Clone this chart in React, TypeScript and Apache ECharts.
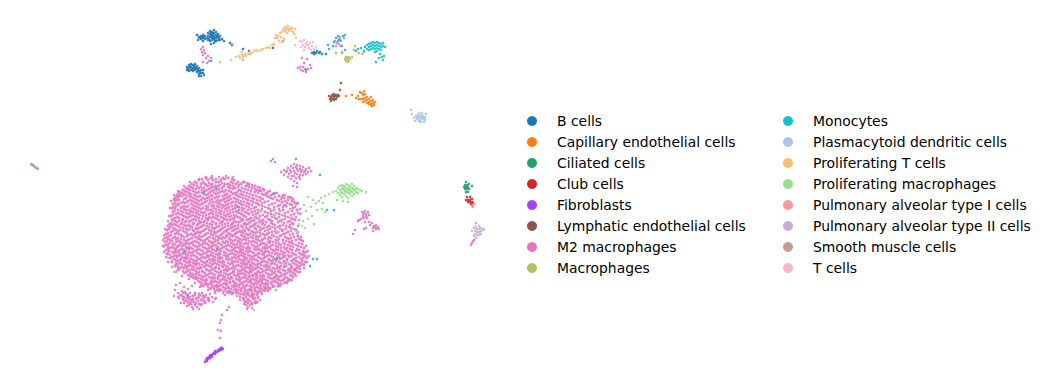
import React, { useEffect, useRef } from "react";
import * as echarts from "echarts";

type Pt = number[];
const rows = (r: number[][]): Pt[] => r.flatMap(([y, ...xs]) => xs.map((x) => [x, y]));

const legendLeft = ["B cells", "Capillary endothelial cells", "Ciliated cells", "Club cells", "Fibroblasts", "Lymphatic endothelial cells", "M2 macrophages", "Macrophages"];
const legendRight = ["Monocytes", "Plasmacytoid dendritic cells", "Proliferating T cells", "Proliferating macrophages", "Pulmonary alveolar type I cells", "Pulmonary alveolar type II cells", "Smooth muscle cells", "T cells"];

const colours: Record<string, string> = {
  "B cells": "#1f77b4", "Capillary endothelial cells": "#ff7f0e", "Ciliated cells": "#279e68", "Club cells": "#d62728",
  "Fibroblasts": "#aa40fc", "Lymphatic endothelial cells": "#8c564b", "M2 macrophages": "#e377c2", "Macrophages": "#b5bd61",
  "Monocytes": "#17becf", "Plasmacytoid dendritic cells": "#aec7e8", "Proliferating T cells": "#ffbb78", "Proliferating macrophages": "#98df8a",
  "Pulmonary alveolar type I cells": "#ff9896", "Pulmonary alveolar type II cells": "#c5b0d5", "Smooth muscle cells": "#c49c94", "T cells": "#f7b6d2",
};

// dense core of the M2 cloud, row by row: [y, x, x, ...]
const m2Core: Pt[] = rows([
  [178, 206, 211, 223, 228],
  [180, 199, 208, 213, 221, 234],
  [182, 195, 203, 216, 219, 231, 238, 244],
  [184, 192, 201, 205, 212, 225, 228, 236, 241, 249],
  [186, 189, 197, 208, 215, 218, 224, 233, 246, 255],
  [188, 186, 193, 199, 204, 211, 222, 230, 235, 242, 252, 260],
  [190, 183, 190, 202, 207, 214, 217, 226, 239, 248, 257, 264],
  [192, 180, 187, 195, 199, 210, 220, 224, 231, 237, 244, 255, 268],
  [194, 178, 184, 191, 204, 208, 216, 227, 233, 241, 250, 262, 273],
  [196, 177, 182, 189, 196, 200, 212, 219, 223, 230, 238, 246, 256, 267, 279],
  [198, 175, 186, 193, 203, 207, 215, 226, 234, 243, 252, 261, 271, 284, 291],
  [200, 174, 179, 190, 197, 201, 210, 218, 222, 229, 238, 248, 257, 277, 288],
  [202, 183, 187, 194, 205, 213, 216, 225, 233, 236, 244, 253, 265, 282, 294],
  [204, 173, 178, 191, 198, 202, 209, 220, 228, 241, 249, 258, 272, 290, 296],
  [206, 176, 184, 188, 195, 206, 212, 217, 224, 232, 237, 246, 262, 278, 286],
  [208, 172, 181, 192, 199, 203, 214, 222, 227, 235, 242, 254, 268, 293],
  [210, 178, 186, 189, 196, 208, 211, 219, 230, 239, 248, 258, 274, 283, 297],
  [212, 173, 183, 193, 201, 205, 216, 224, 233, 237, 245, 252, 265, 288],
  [214, 176, 180, 188, 198, 209, 213, 221, 228, 241, 249, 256, 271, 279, 294],
  [216, 171, 184, 191, 195, 203, 218, 226, 231, 236, 244, 260, 267, 285],
  [218, 175, 179, 187, 199, 206, 211, 215, 223, 234, 240, 251, 257, 275, 291],
  [220, 172, 182, 192, 196, 208, 219, 227, 230, 243, 247, 254, 263, 270, 282, 295],
  [222, 177, 185, 189, 201, 204, 213, 222, 236, 239, 250, 259, 266, 278, 288],
  [224, 170, 174, 181, 193, 198, 210, 216, 225, 232, 244, 248, 255, 262, 273, 293],
  [226, 168, 178, 186, 190, 202, 207, 219, 228, 235, 241, 252, 258, 269, 280, 286],
  [228, 173, 183, 196, 199, 212, 215, 223, 231, 238, 246, 255, 264, 275, 291],
  [230, 167, 176, 180, 188, 193, 204, 209, 220, 227, 234, 243, 249, 260, 268, 283, 296],
  [232, 171, 185, 198, 201, 214, 217, 224, 238, 241, 253, 257, 272, 278, 288],
  [234, 166, 175, 179, 191, 195, 206, 211, 222, 230, 235, 246, 250, 263, 267, 284, 293],
  [236, 169, 182, 187, 199, 203, 216, 227, 233, 243, 256, 260, 274, 280, 298],
  [238, 165, 173, 178, 192, 197, 208, 213, 220, 225, 238, 248, 253, 265, 271, 287, 291],
  [240, 170, 184, 188, 201, 205, 218, 231, 235, 242, 246, 258, 262, 276, 283, 296, 301],
  [242, 165, 176, 180, 193, 197, 211, 214, 223, 228, 239, 251, 255, 268, 273, 289],
  [244, 168, 173, 185, 189, 203, 207, 220, 233, 237, 244, 248, 261, 265, 279, 285, 293, 302],
  [246, 164, 178, 182, 195, 199, 212, 216, 226, 230, 241, 254, 258, 271, 276, 290, 298],
  [248, 170, 174, 187, 191, 205, 209, 222, 235, 239, 246, 250, 263, 267, 281, 287, 304],
  [250, 166, 180, 184, 197, 201, 214, 218, 228, 232, 243, 256, 260, 273, 278, 292, 299],
  [252, 172, 176, 189, 193, 207, 211, 224, 237, 241, 248, 252, 265, 269, 283, 289, 306],
  [254, 167, 182, 186, 199, 203, 216, 220, 230, 234, 245, 258, 262, 275, 280, 294, 301],
  [256, 174, 178, 191, 195, 209, 213, 226, 239, 243, 250, 254, 267, 271, 285, 291, 305],
  [258, 170, 184, 188, 201, 205, 218, 222, 232, 236, 247, 260, 264, 277, 282, 296, 303, 307],
  [260, 176, 180, 193, 197, 211, 215, 228, 241, 245, 252, 256, 269, 273, 287, 293],
  [262, 172, 186, 190, 203, 207, 220, 224, 234, 238, 249, 262, 266, 279, 284, 298, 305],
  [264, 178, 182, 195, 199, 213, 217, 230, 243, 247, 254, 258, 271, 275, 289, 295, 302],
  [266, 175, 188, 192, 205, 209, 222, 226, 236, 240, 251, 264, 268, 281, 286, 300],
  [268, 180, 184, 197, 201, 215, 219, 232, 245, 249, 256, 260, 273, 277, 291, 297],
  [270, 178, 190, 194, 207, 211, 224, 228, 238, 242, 253, 266, 270, 283, 288, 294],
  [272, 186, 199, 203, 217, 221, 234, 247, 251, 258, 262, 275, 279, 290, 298],
  [274, 192, 196, 209, 213, 226, 230, 240, 244, 255, 268, 272, 285, 295],
  [276, 190, 201, 205, 219, 223, 236, 249, 253, 260, 264, 277, 281, 292],
  [278, 194, 198, 211, 215, 228, 232, 242, 246, 257, 270, 274, 287],
  [280, 203, 207, 221, 225, 238, 251, 255, 262, 266, 279, 283, 290],
  [282, 200, 213, 217, 230, 234, 244, 248, 259, 272, 276, 286],
  [284, 205, 209, 223, 227, 240, 253, 257, 264, 268, 281],
  [286, 203, 215, 219, 232, 236, 246, 250, 261, 274, 278],
  [288, 211, 225, 229, 242, 255, 259, 266, 270],
  [290, 217, 221, 234, 238, 248, 252, 263, 268],
  [292, 227, 231, 244, 257, 261],
  [294, 186, 199, 240, 246, 254],
  [296, 182, 193, 203, 250],
  [298, 187, 197, 208, 243, 255],
  [300, 191, 184, 201, 248],
  [302, 194, 188, 205, 246, 257],
  [304, 199, 191, 252],
]);

// finer points between the core rows
const m2Fine: Pt[] = rows([
  [179, 202, 216, 225, 232],
  [183, 197, 209, 222, 233, 247],
  [185, 194, 206, 211, 220, 230, 239, 252],
  [187, 191, 201, 213, 228, 238, 249, 258],
  [189, 188, 196, 209, 219, 233, 245, 255, 263],
  [191, 185, 193, 205, 212, 222, 229, 241, 251, 261, 270],
  [193, 182, 189, 197, 202, 214, 218, 235, 247, 258, 266, 277],
  [195, 180, 186, 194, 206, 211, 225, 236, 243, 253, 264, 271, 285],
  [197, 179, 191, 198, 209, 217, 228, 240, 249, 259, 269, 275, 282, 288],
  [199, 177, 184, 195, 205, 212, 224, 231, 236, 246, 254, 263, 273, 281, 293],
  [201, 176, 188, 192, 199, 207, 220, 227, 241, 251, 260, 268, 279, 285, 292],
  [203, 175, 181, 185, 196, 203, 211, 218, 231, 239, 247, 256, 262, 275, 287, 297],
  [205, 179, 193, 200, 214, 222, 226, 235, 243, 252, 259, 269, 280, 284, 292],
  [207, 174, 182, 186, 197, 208, 219, 229, 239, 249, 256, 265, 274, 283, 295],
  [209, 175, 184, 194, 201, 206, 216, 225, 233, 244, 251, 262, 270, 279, 290],
  [211, 174, 181, 191, 198, 213, 221, 227, 236, 242, 255, 261, 271, 280, 292],
  [213, 178, 186, 190, 196, 203, 211, 219, 230, 239, 247, 258, 268, 276, 285, 298],
  [215, 173, 182, 193, 200, 206, 216, 224, 234, 243, 253, 263, 274, 282, 291],
  [217, 177, 186, 189, 197, 209, 213, 221, 229, 238, 246, 255, 265, 272, 279, 288, 296],
  [219, 173, 183, 194, 202, 208, 217, 225, 232, 242, 249, 259, 268, 277, 285, 293],
  [221, 175, 179, 186, 190, 199, 205, 212, 223, 234, 241, 252, 261, 272, 280, 290],
  [223, 171, 182, 194, 200, 207, 216, 220, 228, 233, 245, 256, 263, 271, 284, 292],
  [225, 172, 176, 184, 188, 197, 204, 212, 222, 231, 238, 246, 254, 265, 275, 283, 290],
  [227, 170, 180, 192, 201, 209, 217, 225, 233, 243, 250, 260, 267, 272, 278, 289],
  [229, 169, 175, 186, 190, 197, 206, 214, 221, 229, 236, 248, 256, 262, 270, 280, 286, 294],
  [231, 173, 178, 183, 194, 203, 211, 219, 226, 232, 240, 245, 252, 265, 275, 282, 291],
  [233, 168, 177, 187, 196, 200, 208, 215, 228, 236, 243, 255, 260, 269, 276, 286, 297],
  [235, 171, 181, 189, 193, 205, 213, 220, 226, 232, 241, 248, 253, 265, 272, 282, 290],
  [237, 167, 175, 184, 195, 201, 210, 218, 223, 230, 236, 245, 251, 258, 269, 277, 285, 294],
  [239, 168, 176, 181, 190, 199, 207, 215, 222, 229, 240, 244, 256, 263, 268, 279, 289, 299],
  [241, 167, 172, 178, 186, 195, 203, 209, 216, 226, 233, 238, 249, 253, 260, 270, 278, 286, 292],
  [243, 170, 182, 187, 191, 199, 205, 212, 218, 225, 231, 241, 246, 257, 263, 270, 276, 283, 291, 299],
  [245, 166, 175, 180, 184, 193, 201, 209, 214, 222, 228, 235, 240, 252, 260, 267, 273, 281, 288, 296],
  [247, 168, 172, 177, 186, 189, 197, 203, 211, 218, 224, 232, 237, 243, 248, 256, 265, 269, 278, 284, 293, 301],
  [249, 168, 176, 182, 189, 193, 199, 207, 212, 220, 226, 234, 241, 248, 254, 258, 265, 271, 276, 285, 290, 297],
  [251, 169, 175, 178, 186, 195, 203, 209, 216, 221, 230, 235, 240, 246, 250, 262, 267, 275, 281, 287, 296, 303],
  [253, 168, 174, 179, 184, 191, 197, 205, 213, 219, 226, 232, 239, 243, 254, 259, 264, 272, 277, 285, 292, 299, 304],
  [255, 170, 176, 180, 188, 193, 201, 207, 211, 218, 224, 228, 236, 241, 248, 256, 264, 269, 278, 283, 288, 296, 303],
  [257, 172, 177, 182, 186, 197, 203, 207, 215, 220, 228, 234, 238, 245, 252, 258, 265, 273, 279, 284, 289, 299],
  [259, 174, 181, 186, 191, 199, 209, 213, 220, 226, 230, 239, 244, 250, 254, 262, 269, 275, 280, 287, 294, 301],
  [261, 172, 178, 184, 189, 195, 201, 207, 213, 218, 223, 232, 236, 243, 248, 258, 264, 271, 276, 284, 291, 296, 302],
  [263, 176, 180, 188, 193, 197, 205, 210, 215, 222, 228, 232, 241, 245, 252, 260, 268, 273, 281, 286, 293, 300],
  [265, 176, 185, 190, 196, 202, 207, 212, 219, 224, 233, 238, 245, 250, 256, 261, 266, 277, 284, 291, 297, 304],
  [267, 178, 182, 186, 194, 200, 204, 211, 216, 223, 228, 234, 242, 247, 253, 258, 266, 270, 279, 284, 292, 298],
  [269, 179, 187, 192, 199, 206, 213, 219, 226, 230, 235, 243, 251, 255, 262, 268, 275, 280, 289, 295, 300],
  [271, 183, 188, 196, 202, 209, 215, 221, 227, 233, 240, 245, 250, 258, 264, 272, 278, 285, 291, 296],
  [273, 184, 190, 197, 205, 211, 219, 224, 232, 238, 242, 249, 256, 260, 266, 274, 281, 287, 293],
  [275, 188, 194, 199, 207, 215, 221, 228, 234, 238, 246, 252, 257, 263, 270, 276, 283, 290],
  [277, 192, 196, 203, 209, 213, 218, 225, 231, 239, 244, 250, 256, 262, 268, 275, 279, 285, 293],
  [279, 196, 201, 206, 213, 218, 223, 230, 236, 240, 248, 253, 260, 264, 272, 277, 284, 289],
  [281, 198, 205, 211, 215, 220, 227, 233, 240, 246, 250, 257, 261, 268, 274, 281, 288],
  [283, 202, 206, 211, 219, 225, 230, 236, 242, 251, 255, 262, 266, 271, 278, 284],
  [285, 201, 207, 212, 217, 221, 226, 234, 238, 243, 247, 254, 260, 266, 272, 279],
  [287, 208, 213, 217, 223, 228, 234, 239, 244, 252, 257, 264, 268, 273],
  [289, 210, 214, 219, 226, 231, 236, 241, 245, 250, 255, 261, 265, 270],
  [291, 215, 219, 224, 229, 236, 241, 246, 250, 255, 259, 265],
  [293, 183, 190, 195, 202, 223, 229, 233, 238, 248, 252, 258],
  [295, 180, 188, 195, 200, 206, 244, 248, 252, 257],
  [297, 178, 184, 190, 199, 205, 212, 240, 246, 252, 258],
  [299, 183, 189, 193, 196, 203, 209, 215, 244, 248, 253],
  [301, 186, 192, 198, 204, 209, 244, 250, 255],
  [303, 184, 190, 196, 205, 248, 252, 255],
  [305, 189, 195, 201, 250, 246],
]);

// scattered fringe of the M2 cloud and its smaller groups
const m2Fringe: Pt[] = [
  [206, 177], [212, 176], [219, 177], [226, 176], [233, 177], [199, 179], [243, 182], [190, 182], [248, 185], [184, 186], [252, 188],
  [178, 191], [259, 191], [266, 194], [275, 193], [283, 195], [174, 195], [290, 197], [298, 203], [171, 201], [300, 209], [170, 208],
  [300, 214], [169, 216], [299, 220], [168, 221], [298, 226], [165, 229], [298, 232], [164, 235], [301, 237], [163, 240], [303, 241],
  [163, 246], [306, 246], [164, 252], [308, 251], [166, 257], [309, 256], [168, 262], [307, 262], [172, 267], [304, 268], [176, 272],
  [300, 272], [182, 276], [296, 276], [189, 279], [292, 280], [195, 283], [287, 283], [200, 287], [280, 286], [208, 290], [276, 290],
  [268, 291], [215, 293], [262, 294], [225, 295], [232, 294],
  [176, 285], [180, 283], [184, 287], [175, 290], [178, 293], [182, 291], [188, 289], [192, 286], [174, 296], [179, 298], [185, 292],
  [187, 306], [192, 307], [197, 307], [202, 304], [208, 300], [213, 302], [204, 296], [210, 294], [216, 298], [199, 309], [193, 309], [181, 303],
  [237, 296], [240, 300], [244, 304], [248, 307], [252, 308], [256, 303], [253, 296], [258, 298], [247, 309], [242, 294], [236, 293], [260, 300],
  [222, 315], [227, 310], [220, 323], [221, 320], [218, 330], [221, 331], [220, 338], [229, 307],
  // upper-right patch
  [281, 172], [284, 175], [284, 170], [286, 172], [288, 168], [287, 171], [288, 177], [289, 174], [291, 166], [290, 170], [291, 172], [291, 179], [292, 176], [294, 164],
  [293, 168], [294, 171], [295, 173], [294, 176], [294, 181], [296, 178], [297, 165], [296, 167], [297, 169], [298, 171], [297, 174], [297, 183], [299, 177], [300, 166], [300, 169],
  [301, 172], [300, 175], [300, 179], [303, 167], [302, 170], [304, 172], [303, 175], [306, 169], [305, 171], [306, 174], [309, 168], [308, 172], [311, 171], [293, 186], [297, 187], [273, 159], [271, 161], [275, 162],
  // right-hand small groups
  [362, 212], [365, 211], [363, 215], [366, 214], [369, 215], [361, 219], [364, 218], [367, 218], [359, 220], [365, 222], [358, 221], [364, 213], [366, 216], [363, 217], [368, 212],
  [369, 222], [372, 223], [370, 225], [374, 226], [376, 225], [373, 228], [376, 229], [379, 229], [378, 227], [373, 231], [355, 230], [353, 234], [366, 228], [364, 229], [375, 227], [377, 228],
  [472, 243], [473, 241], [471, 245], [474, 240],
  // top groups
  [203, 47], [201, 49], [204, 50], [202, 52], [205, 53], [203, 55], [206, 58], [208, 56], [209, 61], [207, 63], [211, 58], [203, 62],
  [298, 68], [300, 67], [301, 70], [303, 67], [303, 71], [305, 69], [306, 72], [308, 69], [310, 65], [311, 68], [304, 63], [302, 58],
  [335, 41], [337, 43], [339, 44], [341, 41], [339, 39], [342, 46], [336, 46], [344, 38], [340, 37], [283, 41], [342, 53], [307, 59],
];

const bCells: Pt[] = [
  [197, 35], [199, 37], [198, 40], [201, 36], [201, 39], [203, 35], [203, 38], [205, 36], [205, 39], [203, 41], [207, 38], [208, 33], [208, 36], [208, 40],
  [210, 31], [210, 34], [210, 37], [210, 41], [212, 32], [212, 35], [212, 38], [212, 40], [214, 30], [214, 33], [214, 36], [214, 39], [214, 43], [216, 32],
  [216, 35], [216, 38], [216, 41], [218, 34], [218, 37], [218, 40], [220, 36], [220, 40], [222, 39], [224, 41], [230, 43], [232, 45], [211, 44],
  [211, 33], [213, 34], [213, 37], [215, 38], [215, 41], [211, 36], [209, 39], [217, 36], [219, 38], [200, 38], [202, 37], [204, 37],
  [187, 67], [187, 70], [189, 65], [189, 68], [189, 71], [191, 64], [191, 67], [191, 70], [193, 65], [193, 68], [193, 71], [195, 64], [195, 67], [195, 70],
  [197, 66], [197, 69], [197, 72], [199, 68], [199, 71], [199, 74], [201, 70], [201, 73], [201, 76], [203, 70], [203, 73], [204, 75], [199, 76],
  [190, 66], [192, 69], [194, 66], [194, 69], [196, 68], [198, 70], [200, 72], [188, 69],
  [243, 49], [249, 51], [273, 48], [312, 53], [314, 52], [316, 53], [317, 51], [319, 53], [320, 52], [322, 54], [314, 54], [326, 54],
];
const capillary: Pt[] = [
  [346, 96], [352, 95], [358, 96], [356, 98], [360, 92], [362, 93], [364, 91], [363, 95], [365, 94], [359, 99], [361, 99], [363, 99], [365, 98], [367, 97],
  [363, 102], [365, 101], [367, 100], [369, 99], [371, 97], [367, 103], [369, 102], [371, 101], [373, 100], [369, 104], [371, 104], [373, 103], [375, 102],
  [372, 106], [374, 105], [371, 105],
];
const ciliated: Pt[] = [[466, 182], [465, 185], [467, 185], [469, 184], [464, 187], [466, 187], [468, 187], [465, 189], [467, 189], [469, 189], [466, 192], [468, 192], [472, 186]];
const club: Pt[] = [[467, 197], [470, 197], [466, 200], [468, 200], [470, 200], [472, 199], [468, 202], [470, 202], [472, 202], [471, 204], [473, 203]];
const fibroblasts: Pt[] = [
  [205, 362], [206, 360], [207, 361], [208, 359], [207, 358], [209, 357], [210, 358], [211, 356], [210, 355], [212, 355], [213, 354], [212, 357],
  [214, 353], [215, 354], [216, 352], [215, 351], [217, 352], [218, 350], [219, 351], [220, 349], [221, 350], [222, 348], [223, 349], [221, 348],
];
const lymphatic: Pt[] = [
  [329, 96], [330, 99], [331, 97], [332, 95], [332, 99], [333, 96], [334, 98], [334, 94], [335, 96], [336, 99], [336, 95], [337, 97], [338, 95], [339, 96], [331, 101], [334, 100], [341, 83], [340, 90],
];
const macrophages: Pt[] = [[345, 59], [347, 58], [349, 57], [346, 61], [348, 60], [350, 59], [348, 62], [352, 57], [346, 57], [359, 53], [362, 54], [364, 52], [354, 50], [342, 52], [336, 53], [355, 46], [243, 60]];
const monocytes: Pt[] = [
  [365, 47], [367, 45], [367, 49], [369, 44], [369, 47], [369, 50], [371, 43], [371, 46], [371, 49], [373, 42], [373, 45], [373, 48], [375, 43], [375, 46], [375, 49], [375, 52],
  [377, 42], [377, 45], [377, 48], [377, 51], [379, 43], [379, 46], [379, 49], [381, 44], [381, 47], [381, 50], [383, 46], [383, 43], [385, 47], [380, 54], [382, 57], [384, 56], [379, 58], [383, 60], [376, 62],
  [329, 49], [333, 46], [328, 45], [334, 42], [336, 38], [338, 36], [338, 41], [340, 40], [343, 36], [341, 46], [345, 50], [356, 51], [358, 49], [361, 48], [364, 51], [345, 35],
  [296, 159], [320, 175], [204, 192], [216, 188], [274, 194], [238, 207], [217, 249], [184, 252], [277, 259], [313, 259], [317, 259], [310, 266], [188, 296], [327, 210], [334, 210], [211, 61], [306, 70],
];
const plasmacytoid: Pt[] = [
  [411, 110], [412, 114], [414, 118], [416, 116], [417, 119], [418, 115], [419, 113], [419, 117], [419, 121], [421, 115], [421, 118], [421, 122], [423, 116], [423, 119], [425, 117], [425, 120], [424, 122], [426, 114], [422, 113], [415, 121],
  [418, 118], [420, 117], [420, 120], [422, 117], [424, 118], [417, 117],
];
const prolifT: Pt[] = [
  [220, 62], [231, 60], [236, 57], [239, 56], [240, 58], [242, 55], [243, 57], [245, 54], [246, 56], [248, 54], [250, 52], [250, 54], [252, 53], [254, 51], [256, 50], [258, 51], [261, 50], [263, 49],
  [266, 48], [268, 47], [270, 48], [272, 45], [274, 44], [275, 38], [276, 35], [277, 38], [278, 36], [279, 41], [281, 37], [282, 42], [284, 39], [280, 33],
  [282, 32], [283, 30], [284, 28], [285, 31], [286, 27], [286, 29], [287, 33], [288, 26], [288, 29], [289, 31], [290, 28], [291, 30], [292, 28], [293, 32], [295, 29], [294, 34], [296, 38], [295, 45], [242, 52], [233, 44],
];
const prolifMac: Pt[] = [
  [336, 191], [338, 188], [338, 193], [340, 186], [340, 190], [340, 195], [342, 185], [342, 189], [342, 193], [342, 197], [344, 186], [344, 190], [344, 194], [346, 184], [346, 188], [346, 192], [346, 196],
  [348, 185], [348, 189], [348, 193], [348, 198], [350, 186], [350, 190], [350, 194], [352, 184], [352, 188], [352, 192], [352, 196], [354, 186], [354, 190], [354, 194], [356, 188], [356, 192], [358, 189], [358, 193], [360, 190], [362, 191], [366, 192], [337, 200], [343, 201], [348, 202],
  [345, 187], [347, 190], [349, 188], [351, 191], [353, 189], [355, 190], [349, 192], [345, 191], [343, 188], [341, 192],
  [333, 192], [329, 194], [325, 196], [321, 198], [319, 201], [316, 203], [313, 200], [323, 203], [308, 197], [304, 205], [311, 207], [317, 210], [322, 209], [306, 211], [301, 213], [312, 216], [308, 219], [303, 221], [299, 224], [314, 224], [305, 228], [325, 212], [297, 232], [302, 226],
  [238, 194], [210, 203], [207, 228], [185, 233], [217, 244], [230, 250], [275, 215], [281, 222], [265, 228], [268, 264], [284, 265], [174, 272], [168, 258], [254, 310], [250, 232], [261, 212],
];
const pulmI: Pt[] = [[476, 223], [473, 205], [473, 207], [472, 206], [474, 204]];
const pulmII: Pt[] = [[472, 231], [474, 228], [475, 231], [475, 234], [476, 227], [477, 229], [477, 232], [477, 235], [479, 226], [479, 229], [479, 232], [479, 235], [481, 228], [481, 231], [481, 234], [483, 230], [484, 229], [476, 238], [474, 236]];
const smooth: Pt[] = [[31, 164], [32, 165], [33, 165], [34, 166], [35, 167], [36, 168], [37, 168], [38, 169]];
const tCells: Pt[] = [[300, 41], [302, 42], [304, 40], [306, 44], [303, 45], [305, 47], [307, 42], [308, 45], [309, 48], [310, 43], [312, 46], [313, 42], [314, 49], [316, 47], [304, 50], [311, 50], [301, 47]];

const seriesData: Record<string, Pt[]> = {
  "B cells": bCells, "Capillary endothelial cells": capillary, "Ciliated cells": ciliated, "Club cells": club, "Fibroblasts": fibroblasts,
  "Lymphatic endothelial cells": lymphatic, "M2 macrophages": [...m2Fine, ...m2Fringe], "Macrophages": macrophages, "Monocytes": monocytes,
  "Plasmacytoid dendritic cells": plasmacytoid, "Proliferating T cells": prolifT, "Proliferating macrophages": prolifMac,
  "Pulmonary alveolar type I cells": pulmI, "Pulmonary alveolar type II cells": pulmII, "Smooth muscle cells": smooth, "T cells": tCells,
};

const legendBase = {
  orient: "vertical" as const,
  top: 109,
  icon: "circle",
  itemWidth: 10,
  itemHeight: 10,
  itemGap: 7,
  selectedMode: false,
  itemStyle: { opacity: 1 },
  textStyle: { fontFamily: "DejaVu Sans", fontSize: 13.9, color: "#000", padding: [0, 0, 0, 15] },
};

export default function App() {
  const ref = useRef<HTMLDivElement>(null);
  useEffect(() => {
    document.body.style.margin = "0";
    const chart = echarts.init(ref.current!, undefined, { renderer: "svg" });
    const order = [...legendLeft, ...legendRight];
    chart.setOption({
      animation: false,
      grid: { left: 0, right: 0, top: 0, bottom: 0 },
      xAxis: { type: "value", min: 0, max: 1046, show: false },
      yAxis: { type: "value", min: 0, max: 389, inverse: true, show: false },
      legend: [
        { ...legendBase, left: 522, data: legendLeft },
        { ...legendBase, left: 778, data: legendRight },
      ],
      series: [
        {
          type: "scatter", name: "M2 macrophages", data: m2Core, symbolSize: 3.2, silent: true,
          itemStyle: { color: colours["M2 macrophages"], opacity: 0.9 },
        },
        ...order.map((name) => ({
          type: "scatter", name, data: seriesData[name], symbolSize: 2.6, silent: true,
          itemStyle: { color: colours[name], opacity: 0.9 },
        })),
      ],
    });
    return () => chart.dispose();
  }, []);
  return <div ref={ref} style={{ width: 1046, height: 389 }} />;
}
